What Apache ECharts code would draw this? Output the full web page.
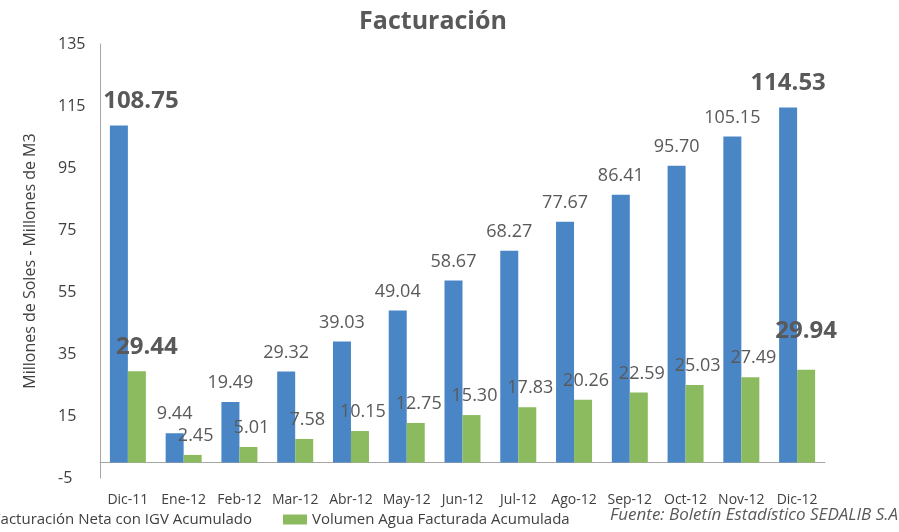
<!DOCTYPE html>
<html>
<head>
<meta charset="utf-8">
<script src="https://cdn.jsdelivr.net/npm/echarts@6/dist/echarts.min.js"></script>
<style>html,body{margin:0;padding:0;background:#fff;}#c{width:899px;height:532px;}</style>
</head>
<body>
<div id="c"></div>
<script>
var categories = ['Dic-11','Ene-12','Feb-12','Mar-12','Abr-12','May-12','Jun-12','Jul-12','Ago-12','Sep-12','Oct-12','Nov-12','Dic-12'];
var facturacion = [108.75, 9.44, 19.49, 29.32, 39.03, 49.04, 58.67, 68.27, 77.67, 86.41, 95.70, 105.15, 114.53];
var volumen = [29.44, 2.45, 5.01, 7.58, 10.15, 12.75, 15.30, 17.83, 20.26, 22.59, 25.03, 27.49, 29.94];
var yTicks = [-5, 15, 35, 55, 75, 95, 115, 135];
var seriesNames = ['Facturación Neta con IGV Acumulado', 'Volumen Agua Facturada Acumulada'];

var FONT = '"Open Sans", sans-serif';
var TXT = '#595959';
var last = categories.length - 1;

function buildData(vals, isGreen) {
  return vals.map(function (v, i) {
    var item = { value: v };
    if (i === 0 || i === last) {
      var off = [0, 0];
      if (i === 0) off = isGreen ? [10, 0] : [22, 0];
      if (i === last && isGreen) off = [0, -15];
      item.label = { fontSize: 24, fontWeight: 'bold', distance: 12, offset: off };
    }
    return item;
  });
}

var chart = echarts.init(document.getElementById('c'));
chart.setOption({
  animation: false,
  textStyle: { fontFamily: FONT },
  title: {
    text: 'Facturación', left: 428, top: 4, textAlign: 'center',
    textStyle: { fontFamily: FONT, fontSize: 25, fontWeight: 'bold', color: TXT }
  },
  legend: [{
    data: [seriesNames[0]], right: 642, top: 507, icon: 'rect', itemWidth: 24, itemHeight: 10,
    textStyle: { fontFamily: FONT, fontSize: 15, color: '#404040' }
  }, {
    data: [seriesNames[1]], left: 278, top: 507, icon: 'rect', itemWidth: 24, itemHeight: 10, itemGap: 4,
    textStyle: { fontFamily: FONT, fontSize: 15, color: '#404040' }
  }],
  graphic: [{
    type: 'text', right: 1, top: 507,
    style: { text: 'Fuente: Boletín Estadístico SEDALIB S.A', fontFamily: FONT, fontSize: 17, fontStyle: 'italic', fill: TXT }
  }],
  grid: { left: 100, top: 44, width: 725, height: 434, containLabel: false },
  xAxis: {
    type: 'category', data: categories,
    axisLine: { onZero: true, lineStyle: { color: '#a6a6a6', width: 1 } },
    axisTick: { show: false },
    axisLabel: { fontFamily: FONT, fontSize: 14, color: '#404040', margin: 15, interval: 0 }
  },
  yAxis: {
    type: 'value', min: yTicks[0], max: yTicks[yTicks.length - 1], interval: 20,
    name: 'Millones de Soles - Millones de M3', nameLocation: 'middle', nameGap: 62, nameRotate: 90,
    nameTextStyle: { fontFamily: FONT, fontSize: 16, color: '#404040' },
    axisLine: { show: true, lineStyle: { color: '#a6a6a6', width: 1 } },
    axisTick: { show: false },
    splitLine: { show: false },
    axisLabel: { fontFamily: FONT, fontSize: 16, color: '#404040', align: 'left', margin: 42 }
  },
  series: [{
    name: seriesNames[0], type: 'bar', data: buildData(facturacion, false),
    barWidth: 18, barGap: '0%', itemStyle: { color: '#4a86c6' },
    label: { show: true, position: 'top', distance: 10, fontFamily: FONT, fontSize: 18, color: TXT,
      formatter: function (p) { return p.value.toFixed(2); } }
  }, {
    name: seriesNames[1], type: 'bar', data: buildData(volumen, true),
    barWidth: 18, barGap: '0%', itemStyle: { color: '#8cbb5f' },
    label: { show: true, position: 'top', distance: 10, offset: [3, 0], fontFamily: FONT, fontSize: 18, color: TXT,
      formatter: function (p) { return p.value.toFixed(2); } }
  }]
});
</script>
</body>
</html>
